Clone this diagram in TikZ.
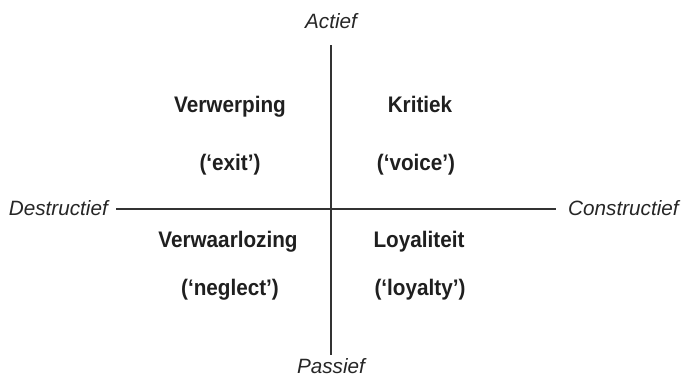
\documentclass[tikz,border=0pt]{standalone}
\usepackage{fontspec}
\setmainfont{Liberation Sans}
\newfontfamily\quadfont[FakeStretch=0.92]{Liberation Sans}
\begin{document}
\begin{tikzpicture}[x=1pt,y=-1pt,
  axislabel/.style={font=\itshape\fontsize{20.7}{24}\selectfont, text=black!85, inner sep=0pt, anchor=base},
  quad/.style={font=\quadfont\bfseries\fontsize{22.5}{26}\selectfont, text=black!88, inner sep=0pt, anchor=base},
  axis/.style={draw=black!80, line width=1.1pt}]
\useasboundingbox (0,0) rectangle (681,376);
\node[axislabel] (act) at (331,28.3) {Actief};
\node[axislabel] (pas) at (331,373) {Passief};
\node[axislabel, anchor=base east] (des) at (108,215.7) {Destructief};
\node[axislabel, anchor=base west] (con) at (568,215.7) {Constructief};
\coordinate (top) at (331,45);
\coordinate (bot) at (331,355);
\coordinate (left) at (116,209);
\coordinate (right) at (556,209);
\draw[axis] (top) -- (bot);
\draw[axis] (left) -- (right);
\node[quad] (v1) at (230,112) {Verwerping};
\node[quad] (v2) at (230,170) {(‘exit’)};
\node[quad] (k1) at (420,112) {Kritiek};
\node[quad] (k2) at (416,170) {(‘voice’)};
\node[quad] (n1) at (228,247) {Verwaarlozing};
\node[quad] (n2) at (230,295) {(‘neglect’)};
\node[quad] (l1) at (419,247) {Loyaliteit};
\node[quad] (l2) at (420,295) {(‘loyalty’)};
\end{tikzpicture}
\end{document}
